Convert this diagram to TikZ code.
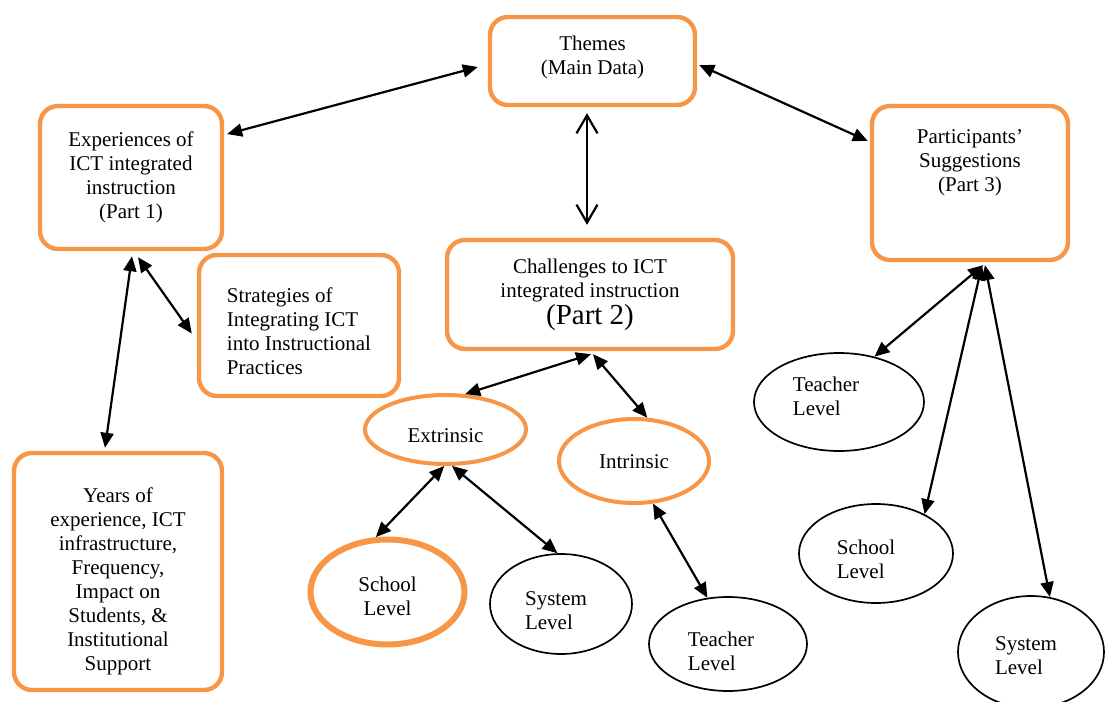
\documentclass[tikz,border=0pt]{standalone}
\usepackage{fontspec}
\setmainfont{Liberation Serif}
\usepackage{xcolor}
\definecolor{accent}{HTML}{F79646}
\usetikzlibrary{arrows.meta, positioning, calc, shapes.geometric}
\newcommand{\leftlines}[3]{\hspace*{#1}\raisebox{#2}[\height][\depth]{\begin{tabular}{@{}l@{}}#3\end{tabular}}\hspace*{-#1}}
\newcommand{\centerlines}[3]{\hspace*{#1}\raisebox{#2}[\height][\depth]{\begin{tabular}{@{}c@{}}#3\end{tabular}}\hspace*{-#1}}

\begin{document}
\begin{tikzpicture}[x=0.5pt, y=-0.5pt,
  box/.style={draw=accent, line width=2.2pt, rounded corners=9pt, fill=white,
              align=center, inner sep=2pt, font=\fontsize{10.5}{12}\selectfont},
  oval/.style={ellipse, draw=accent, line width=2pt, inner sep=0pt,
              font=\fontsize{10.5}{12}\selectfont},
  plain/.style={ellipse, draw=black, line width=0.85pt, inner sep=0pt,
              font=\fontsize{10.5}{12}\selectfont},
  arr/.style={{Triangle[length=7.5pt,width=6.5pt]}-{Triangle[length=7.5pt,width=6.5pt]}, line width=1.1pt},
  barb/.style={{Straight Barb[length=9pt,width=10.5pt]}-{Straight Barb[length=9pt,width=10.5pt]}, line width=1.1pt}]
  \useasboundingbox (0,0) rectangle (1105,702);
  \clip (0,0) rectangle (1105,702);
  \node[box, minimum width=102.5pt, minimum height=44pt] (themes) at (592.5,61) {\centerlines{0pt}{1.5pt}{Themes\\(Main Data)}};
  \node[box, minimum width=91pt, minimum height=71.5pt] (exp) at (131,177.5) {Experiences of\\ICT integrated\\instruction\\(Part 1)};
  \node[box, minimum width=98pt, minimum height=77pt] (part) at (970,183) {Participants’\\Suggestions\\(Part 3)\\[10pt]\mbox{}};
  \node[box, minimum width=100pt, minimum height=70.5pt] (strat) at (299,325.5) {\leftlines{0pt}{-4pt}{Strategies of\\Integrating ICT\\into Instructional\\Practices}};
  \node[box, minimum width=104pt, minimum height=118.5pt] (years) at (118,571.5) {\centerlines{0pt}{-5pt}{Years of\\experience, ICT\\infrastructure,\\Frequency,\\Impact on\\Students, \&\\Institutional\\Support}};
  \node[box, minimum width=143pt, minimum height=54.5pt] (chal) at (590,294.5) {Challenges to ICT\\integrated instruction\\{\fontsize{14.5}{15.5}\selectfont (Part 2)}};
  \node[oval, minimum width=80.5pt, minimum height=34.5pt] (ext) at (445.5,429.5) {\centerlines{0pt}{-4pt}{Extrinsic}};
  \node[oval, minimum width=75pt, minimum height=42pt] (intr) at (634,461) {\centerlines{0pt}{-1.5pt}{Intrinsic}};
  \node[oval, line width=3pt, minimum width=77pt, minimum height=52.5pt] (school) at (387.5,592) {\centerlines{0pt}{-3.5pt}{School\\Level}};
  \node[plain, minimum width=71pt, minimum height=50pt] (sys) at (561,604) {\leftlines{-2.5pt}{-4.5pt}{System\\Level}};
  \node[plain, minimum width=79pt, minimum height=47pt] (teachM) at (728,644) {\leftlines{-3.5pt}{-5pt}{Teacher\\Level}};
  \node[plain, minimum width=85pt, minimum height=49pt] (teachR) at (839,402) {\leftlines{-6.5pt}{1.5pt}{Teacher\\Level}};
  \node[plain, minimum width=77pt, minimum height=49.5pt] (schoolR) at (876,553.5) {\leftlines{-5pt}{-4pt}{School\\Level}};
  \node[plain, minimum width=73pt, minimum height=56pt] (sysR) at (1031,652) {\leftlines{-2.5pt}{-3pt}{System\\Level}};
  \draw[arr] ($(themes.west)+(-10,6)$) -- ($(exp.25)+(3,0)$);
  \draw[arr] ($(themes.east)+(2,4)$) -- ($(part.west)+(-2,-42)$);
  \draw[barb] ($(themes.south)+(-5.5,6)$) -- ($(chal.north)+(-3,-13)$);
  \draw[arr] ($(exp.south)+(7,6)$) -- ($(strat.west)+(-5,8)$);
  \draw[arr] ($(exp.south)+(1,5)$) -- ($(years.north)+(-13,-3)$);
  \draw[arr] ($(chal.south)+(1,3)$) -- (ext.61);
  \draw[arr] ($(chal.south)+(3,3)$) -- (intr.73);
  \draw[arr] (ext.-92) -- (school.102);
  \draw[arr] (ext.-80) -- (sys.94);
  \draw[arr] (intr.-66) -- (teachM.114);
  \draw[arr] ($(part.south)+(13,3)$) -- (teachR.52);
  \draw[arr] ($(part.south)+(12,3)$) -- (schoolR.39);
  \draw[arr] ($(part.south)+(15,3)$) -- (sysR.71);
\end{tikzpicture}
\end{document}
